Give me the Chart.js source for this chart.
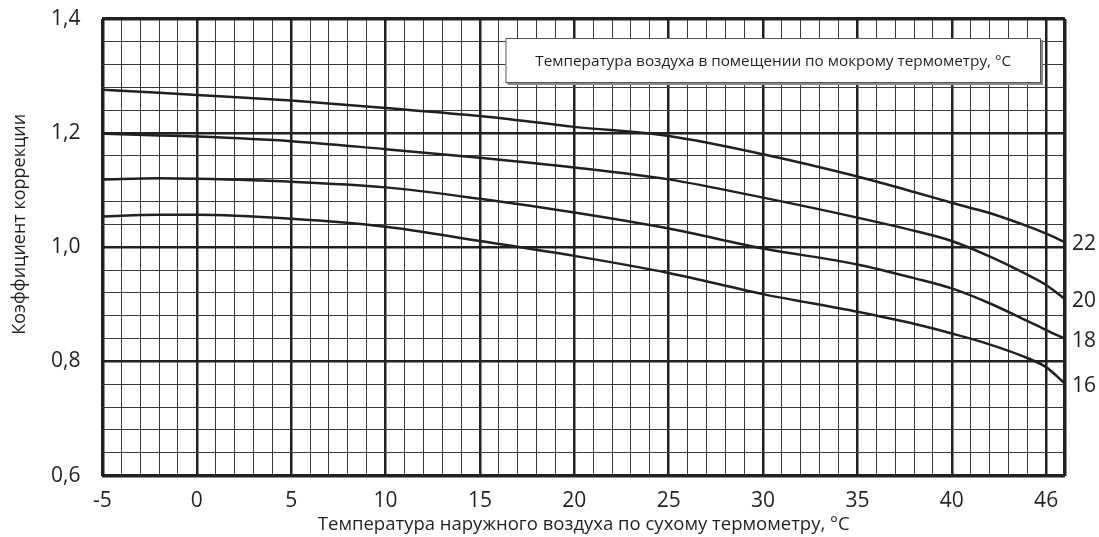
<!DOCTYPE html>
<html>
<head>
<meta charset="utf-8">
<script src="https://cdn.jsdelivr.net/npm/chart.js@4.4.0/dist/chart.umd.min.js"></script>
<style>
  html, body { margin: 0; padding: 0; background: #fff; }
  #wrap { width: 1099px; height: 537px; }
</style>
</head>
<body>
<div id="wrap"><canvas id="chart"></canvas></div>
<script>
// наружная температура по сухому термометру, °C
const temps = [-5, -2, 0, 5, 10, 15, 20, 25, 30, 35, 38, 40, 42, 44, 45, 46];

// коэффициент коррекции для температур по мокрому термометру
const wb22 = [1.276, 1.271, 1.267, 1.257, 1.244, 1.230, 1.211, 1.195, 1.163, 1.124, 1.097, 1.078, 1.060, 1.037, 1.024, 1.009];
const wb20 = [1.199, 1.196, 1.194, 1.186, 1.172, 1.157, 1.140, 1.119, 1.087, 1.052, 1.029, 1.011, 0.984, 0.952, 0.934, 0.909];
const wb18 = [1.119, 1.121, 1.120, 1.115, 1.105, 1.085, 1.061, 1.033, 0.998, 0.970, 0.946, 0.928, 0.902, 0.871, 0.855, 0.840];
const wb16 = [1.054, 1.057, 1.057, 1.050, 1.036, 1.011, 0.985, 0.955, 0.918, 0.887, 0.866, 0.849, 0.830, 0.806, 0.790, 0.761];
const wbLabels = ['22', '20', '18', '16'];

// подписи оси X (последняя линия подписана 46, как в оригинале)
const xTickValues = [-5, 0, 5, 10, 15, 20, 25, 30, 35, 40, 45];
const xTickLabels = ['-5', '0', '5', '10', '15', '20', '25', '30', '35', '40', '46'];
const yTickLabels = ['0,6', '0,8', '1,0', '1,2', '1,4'];

const xTitle = 'Температура наружного воздуха по сухому термометру, °C';
const yTitle = 'Коэффициент коррекции';
const boxTitle = 'Температура воздуха в помещении по мокрому термометру, °C';

const ink = '#231f20';
const fontName = '"Open Sans", "Noto Sans", sans-serif';

function pts(vals) {
    return vals.map((v, i) => ({x: temps[i], y: v}));
}

function isMajorY(v) {
    return Math.abs(v * 5 - Math.round(v * 5)) < 1e-6;
}

const extras = {
    id: 'extras',
    afterDatasetsDraw(chart) {
        const {ctx, chartArea, scales} = chart;
        ctx.save();

        // номера кривых справа
        ctx.font = '21px ' + fontName;
        ctx.fillStyle = ink;
        ctx.textAlign = 'left';
        ctx.textBaseline = 'middle';
        chart.data.datasets.forEach((ds, i) => {
            let last = ds.data[ds.data.length - 1];
            let px = scales.x.getPixelForValue(last.x);
            let py = scales.y.getPixelForValue(last.y);
            ctx.fillText(wbLabels[i], px + 7, py + 2);
        });

        // рамка с подписью
        let bx = chartArea.left + 403;
        let by = chartArea.top + 19;
        let bw = chartArea.right - 24 - bx;
        let bh = 45;
        ctx.fillStyle = '#8a8a8a';
        ctx.fillRect(bx + 2, by + 2, bw, bh);
        ctx.fillStyle = '#fff';
        ctx.fillRect(bx, by, bw, bh);
        ctx.strokeStyle = '#555';
        ctx.lineWidth = 1;
        ctx.strokeRect(bx + 0.5, by + 0.5, bw - 1, bh - 1);
        ctx.fillStyle = ink;
        ctx.font = '15.3px ' + fontName;
        ctx.textAlign = 'center';
        ctx.fillText(boxTitle, bx + bw / 2, by + bh / 2 + 1);

        // подпись оси Y
        ctx.font = '18px ' + fontName;
        ctx.translate(20, (chartArea.top + chartArea.bottom) / 2 - 23);
        ctx.rotate(-Math.PI / 2);
        ctx.fillText(yTitle, 0, 0);

        ctx.restore();
    }
};

const lineStyle = {
    borderColor: ink,
    borderWidth: 2.5,
    pointRadius: 0,
    fill: false,
    cubicInterpolationMode: 'monotone'
};

new Chart(document.getElementById('chart'), {
    type: 'line',
    data: {
        datasets: [
            Object.assign({label: wbLabels[0], data: pts(wb22)}, lineStyle),
            Object.assign({label: wbLabels[1], data: pts(wb20)}, lineStyle),
            Object.assign({label: wbLabels[2], data: pts(wb18)}, lineStyle),
            Object.assign({label: wbLabels[3], data: pts(wb16)}, lineStyle)
        ]
    },
    options: {
        responsive: true,
        maintainAspectRatio: false,
        animation: false,
        layout: {autoPadding: false, padding: {left: 29, right: 34, top: 19, bottom: 0}},
        plugins: {
            legend: {display: false},
            title: {display: false},
            tooltip: {enabled: false}
        },
        scales: {
            x: {
                type: 'linear',
                min: -5,
                max: 46,
                border: {display: false},
                grid: {
                    drawTicks: false,
                    color: ctx => xTickValues.includes(ctx.tick.value) || ctx.tick.value === 46 ? ink : '#3a3a3a',
                    lineWidth: ctx => {
                        let v = ctx.tick.value;
                        if (v === -5 || v === 46) return 3.5;
                        return xTickValues.includes(v) ? 2.5 : 1;
                    }
                },
                ticks: {
                    stepSize: 1,
                    autoSkip: false,
                    maxRotation: 0,
                    padding: 13,
                    color: ink,
                    font: {family: fontName, size: 21},
                    callback: v => {
                        let k = xTickValues.indexOf(v);
                        return k >= 0 ? xTickLabels[k] : '';
                    }
                },
                title: {
                    display: true,
                    text: xTitle,
                    color: ink,
                    font: {family: fontName, size: 18.5},
                    padding: {top: -13, bottom: 1}
                }
            },
            y: {
                type: 'linear',
                min: 0.6,
                max: 1.4,
                border: {display: false},
                afterFit: scale => {
                    scale.paddingTop = 0;
                    scale.paddingBottom = 0;
                },
                grid: {
                    drawTicks: false,
                    color: ctx => isMajorY(ctx.tick.value) ? ink : '#3a3a3a',
                    lineWidth: ctx => {
                        let v = ctx.tick.value;
                        if (Math.abs(v - 0.6) < 1e-6 || Math.abs(v - 1.4) < 1e-6) return 3.5;
                        return isMajorY(v) ? 2.5 : 1;
                    }
                },
                ticks: {
                    stepSize: 0.04,
                    autoSkip: false,
                    padding: 22,
                    color: ink,
                    font: {family: fontName, size: 21},
                    callback: v => {
                        if (!isMajorY(v)) return '';
                        let k = Math.round((v - 0.6) / 0.2);
                        return yTickLabels[k];
                    }
                }
            }
        }
    },
    plugins: [extras]
});
</script>
</body>
</html>
